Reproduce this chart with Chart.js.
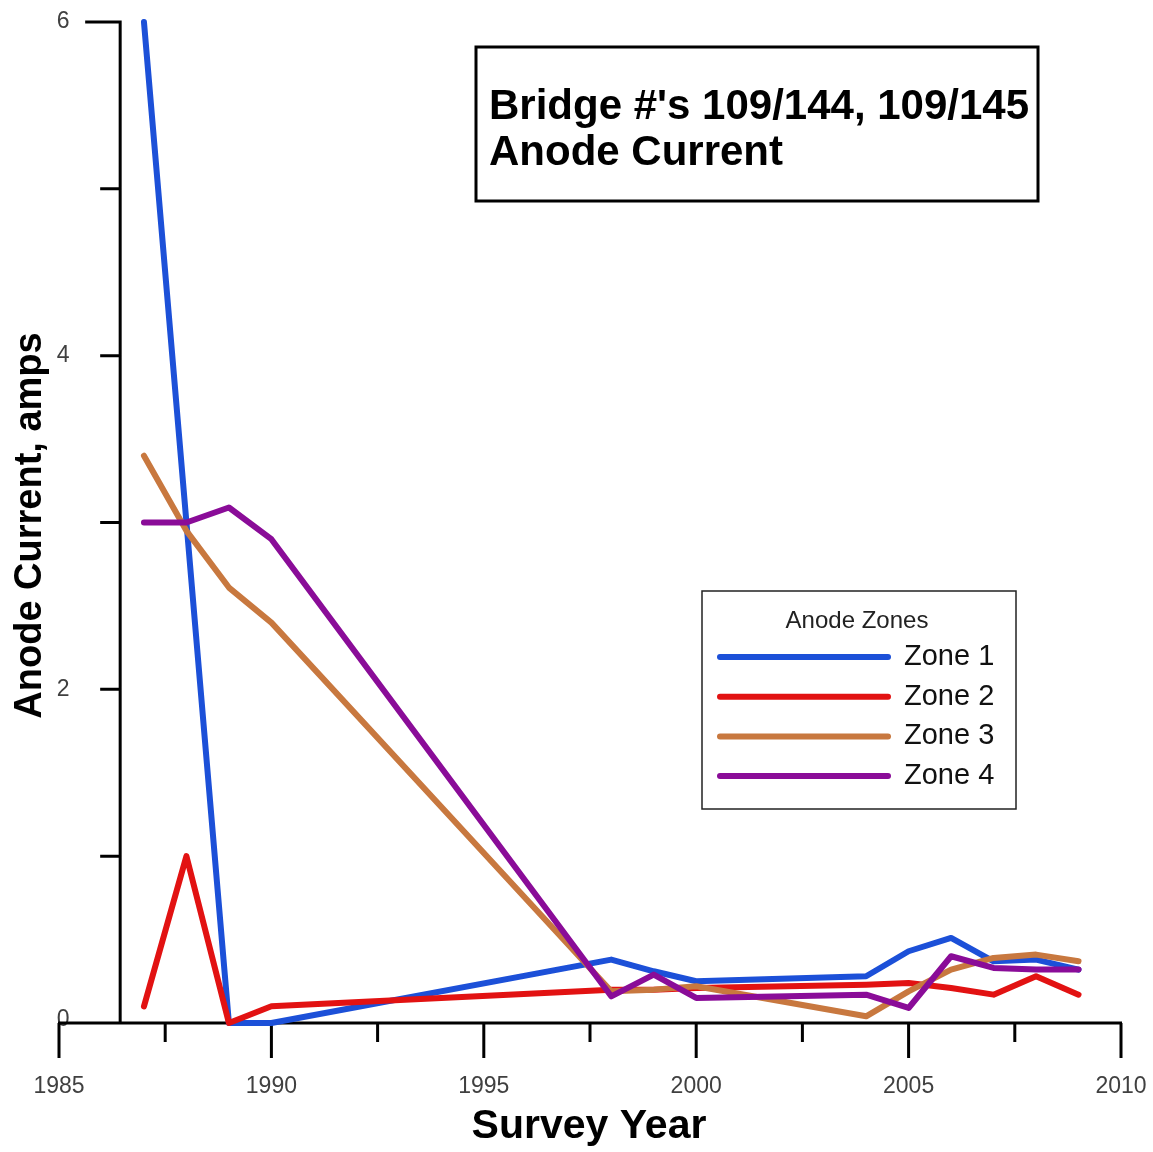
<!DOCTYPE html>
<html>
<head>
<meta charset="utf-8">
<script src="https://cdn.jsdelivr.net/npm/chart.js@4/dist/chart.umd.min.js"></script>
<style>
html,body{margin:0;padding:0;background:#ffffff;}
#wrap{width:1153px;height:1152px;position:relative;}
</style>
</head>
<body>
<div id="wrap"><canvas id="c"></canvas></div>
<script>
// ---- data ----
const years = [1987, 1988, 1989, 1990, 1998, 1999, 2000, 2004, 2005, 2006, 2007, 2008, 2009];
const zone1 = [6.0, 3.0, 0.0, 0.0, 0.38, 0.31, 0.25, 0.28, 0.43, 0.51, 0.37, 0.38, 0.32];
const zone2 = [0.10, 1.0, 0.0, 0.10, 0.20, 0.20, 0.21, 0.23, 0.24, 0.21, 0.17, 0.28, 0.17];
const zone3 = [3.40, 2.95, 2.61, 2.40, 0.19, 0.20, 0.22, 0.04, 0.19, 0.32, 0.39, 0.41, 0.37];
const zone4 = [3.0, 3.0, 3.09, 2.90, 0.16, 0.29, 0.15, 0.17, 0.09, 0.40, 0.33, 0.32, 0.32];
const seriesNames = ['Zone 1', 'Zone 2', 'Zone 3', 'Zone 4'];
const seriesValues = [zone1, zone2, zone3, zone4];
const seriesColors = ['#1c50d8', '#e21212', '#c8783f', '#8a0c98'];
const xMajorTicks = [1985, 1990, 1995, 2000, 2005, 2010];
const xTickLabels = ['1985', '1990', '1995', '2000', '2005', '2010'];
const xMinorTicks = [1987.5, 1992.5, 1997.5, 2002.5, 2007.5];
const yMajorTicks = [0, 2, 4, 6];
const yTickLabels = ['0', '2', '4', '6'];
const yMinorTicks = [1, 3, 5];
const titleLines = ["Bridge #'s 109/144, 109/145", 'Anode Current'];
const xTitle = 'Survey Year';
const yTitle = 'Anode Current, amps';
const legendTitle = 'Anode Zones';

// ---- styling / layout constants ----
const FONT = '"Liberation Sans", Arial, Helvetica, sans-serif';
const X_MIN = 1985, X_MAX = 2010, Y_MIN = 0, Y_MAX = 6;
const Y_AXIS_AT_YEAR = 1986.44;

const axesPlugin = {
  id: 'customAxes',
  beforeDatasetsDraw(chart) {
    const ctx = chart.ctx, xs = chart.scales.x, ys = chart.scales.y;
    const ax = xs.getPixelForValue(Y_AXIS_AT_YEAR);
    const y0 = ys.getPixelForValue(Y_MIN);
    const yTop = ys.getPixelForValue(Y_MAX);
    ctx.save();
    // y tick labels (drawn under the axis lines)
    ctx.fillStyle = '#404040';
    ctx.font = '23px ' + FONT;
    ctx.textAlign = 'center';
    ctx.textBaseline = 'middle';
    yMajorTicks.forEach((v, i) => {
      ctx.fillText(yTickLabels[i], ax - 57, ys.getPixelForValue(v) - (v === 0 ? 3 : 0));
    });
    // x tick labels
    xMajorTicks.forEach((v, i) => {
      ctx.fillText(xTickLabels[i], xs.getPixelForValue(v), y0 + 64);
    });
    // axis lines and ticks
    ctx.strokeStyle = '#000';
    ctx.lineWidth = 3;
    ctx.lineCap = 'butt';
    ctx.beginPath();
    ctx.moveTo(xs.getPixelForValue(X_MIN) - 1, y0);
    ctx.lineTo(xs.getPixelForValue(X_MAX) + 1, y0);
    ctx.moveTo(ax, y0);
    ctx.lineTo(ax, yTop - 1.5);
    ctx.moveTo(ax - 35, yTop);
    ctx.lineTo(ax + 1.5, yTop);
    yMajorTicks.concat(yMinorTicks).forEach(v => {
      if (v === Y_MIN || v === Y_MAX) return;
      const py = ys.getPixelForValue(v);
      ctx.moveTo(ax - 20, py);
      ctx.lineTo(ax, py);
    });
    xMajorTicks.forEach(v => {
      const px = xs.getPixelForValue(v);
      ctx.moveTo(px, y0);
      ctx.lineTo(px, y0 + 35);
    });
    xMinorTicks.forEach(v => {
      const px = xs.getPixelForValue(v);
      ctx.moveTo(px, y0);
      ctx.lineTo(px, y0 + 19);
    });
    ctx.stroke();

    // axis titles
    ctx.fillStyle = '#000';
    ctx.font = 'bold 41px ' + FONT;
    ctx.textAlign = 'center';
    ctx.textBaseline = 'middle';
    ctx.fillText(xTitle, (xs.left + xs.right) / 2 - 1, y0 + 104);
    ctx.save();
    ctx.translate(31, (ys.top + ys.bottom) / 2 + 3);
    ctx.rotate(-Math.PI / 2);
    ctx.font = 'bold 38px ' + FONT;
    ctx.fillText(yTitle, 0, 0);
    ctx.restore();
    ctx.restore();
  },
  afterDraw(chart) {
    const ctx = chart.ctx;
    ctx.save();
    // title box
    ctx.fillStyle = '#fff';
    ctx.fillRect(476, 47, 562, 154);
    ctx.strokeStyle = '#000';
    ctx.lineWidth = 3;
    ctx.strokeRect(476, 47, 562, 154);
    ctx.fillStyle = '#000';
    ctx.font = 'bold 42px ' + FONT;
    ctx.textAlign = 'left';
    ctx.textBaseline = 'alphabetic';
    ctx.fillText(titleLines[0], 489, 119);
    ctx.fillText(titleLines[1], 489, 165);

    // legend box
    ctx.fillStyle = '#fff';
    ctx.fillRect(702, 591, 314, 218);
    ctx.strokeStyle = '#222';
    ctx.lineWidth = 1.5;
    ctx.strokeRect(702, 591, 314, 218);
    ctx.fillStyle = '#222';
    ctx.font = '24px ' + FONT;
    ctx.textAlign = 'center';
    ctx.textBaseline = 'middle';
    ctx.fillText(legendTitle, 857, 621);
    chart.data.datasets.forEach((ds, i) => {
      const ly = 657 + i * 39.7;
      ctx.strokeStyle = ds.borderColor;
      ctx.lineWidth = 6;
      ctx.lineCap = 'round';
      ctx.beginPath();
      ctx.moveTo(720, ly);
      ctx.lineTo(888, ly);
      ctx.stroke();
      ctx.fillStyle = '#111';
      ctx.font = '29px ' + FONT;
      ctx.textAlign = 'left';
      ctx.fillText(ds.label, 904, ly);
    });
    ctx.restore();
  }
};

const datasets = seriesValues.map((vals, i) => ({
  label: seriesNames[i],
  data: years.map((yr, j) => ({ x: yr, y: vals[j] })),
  borderColor: seriesColors[i],
  backgroundColor: seriesColors[i],
  borderWidth: 6,
  pointRadius: 0,
  pointHoverRadius: 0,
  tension: 0,
  fill: false,
  clip: false,
  borderCapStyle: 'round',
  borderJoinStyle: 'round',
  order: 4 - i
}));

new Chart(document.getElementById('c'), {
  type: 'line',
  data: { datasets },
  options: {
    responsive: true,
    maintainAspectRatio: false,
    animation: false,
    events: [],
    layout: { padding: { left: 59, right: 32, top: 22, bottom: 129 } },
    plugins: { legend: { display: false }, tooltip: { enabled: false }, title: { display: false } },
    scales: {
      x: { type: 'linear', min: X_MIN, max: X_MAX, display: false },
      y: { type: 'linear', min: Y_MIN, max: Y_MAX, display: false }
    }
  },
  plugins: [axesPlugin]
});
</script>
</body>
</html>
